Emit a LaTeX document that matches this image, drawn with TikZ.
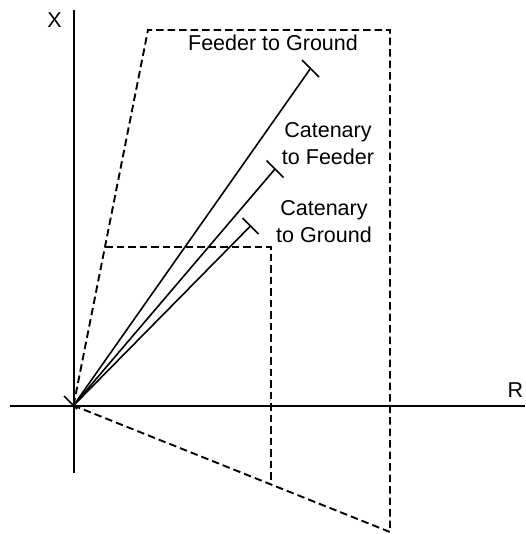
\documentclass[tikz,border=0pt]{standalone}
\usepackage{fontspec}
\setmainfont{Liberation Sans}
\usetikzlibrary{calc}
\begin{document}
\begin{tikzpicture}[x=1pt,y=-1pt,
  axisline/.style={line width=2pt},
  dashline/.style={dash pattern=on 7.5pt off 4pt, line width=1.9pt},
  wire/.style={line width=1.6pt},
  tickmark/.style={line width=1.6pt},
  lbl/.style={font=\fontsize{21.5}{26.5}\selectfont, align=center, inner sep=0pt}]
\useasboundingbox (0,0) rectangle (525,534);
% axes
\coordinate (O) at (73.5,405.5);
\coordinate (xtop) at (73.5,10);
\coordinate (xbot) at (73.5,473);
\coordinate (rl) at (10,405.5);
\coordinate (rr) at (525,405.5);
\draw[axisline] (xtop) -- (xbot);
\draw[axisline] (rl) -- (rr);
\node[lbl] (xlab) at (54.5,20.5) {X};
\node[lbl] (rlab) at (515.5,390) {R};
% dashed regions
\coordinate (A) at (148,30);
\coordinate (B) at (390,30);
\coordinate (C) at (390,532);
\coordinate (a) at (105,247);
\coordinate (b) at (271,247);
\coordinate (c) at (271,485);
\draw[dashline] (O) -- (A) -- (B) -- (C) -- (O);
\draw[dashline] (a) -- (b) -- (c);
% impedance lines
\coordinate (F) at (310.5,68.5);
\coordinate (CF) at (275,169);
\coordinate (CG) at (250.5,226);
\draw[wire] (O) -- (F);
\draw[wire] (O) -- (CF);
\draw[wire] (O) -- (CG);
\draw[tickmark] ($(F)+(-8.5,-8.5)$) -- ($(F)+(8.5,8.5)$);
\draw[tickmark] ($(CF)+(-8.5,-8.5)$) -- ($(CF)+(8.5,8.5)$);
\draw[tickmark] ($(CG)+(-8,-8)$) -- ($(CG)+(8,8)$);
\draw[tickmark] ($(O)+(-9.5,-9.5)$) -- ($(O)+(3.5,3.5)$);
% labels
\node[lbl] (lf) at (273,43) {Feeder to Ground};
\node[lbl] (lcf) at (328,143.5) {Catenary\\to Feeder};
\node[lbl] (lcg) at (324,221.5) {Catenary\\to Ground};
\end{tikzpicture}
\end{document}
